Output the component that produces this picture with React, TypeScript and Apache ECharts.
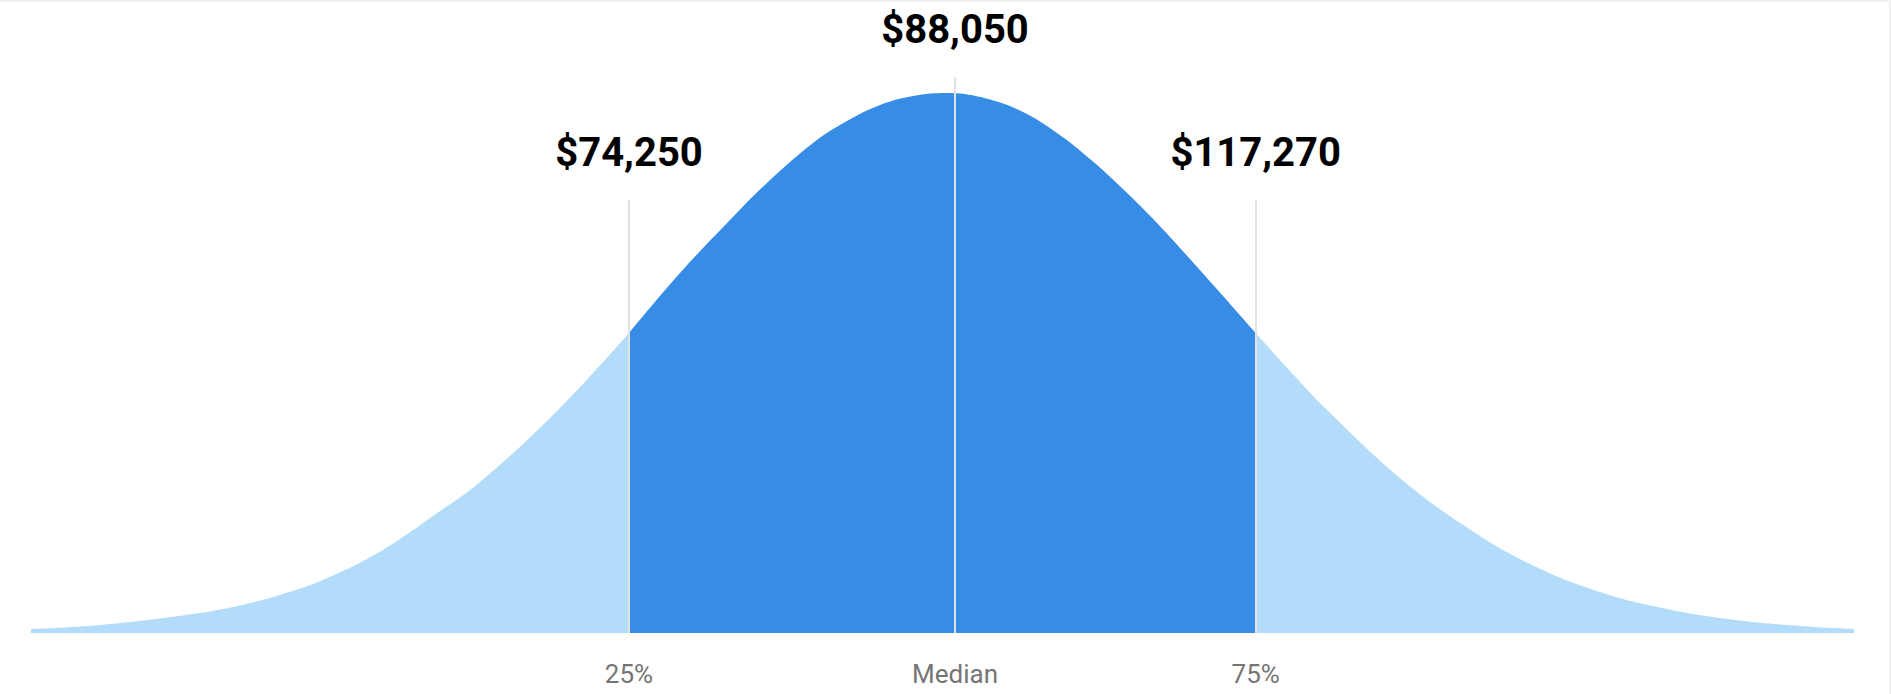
import React, { useEffect, useRef } from "react";
import * as echarts from "echarts";

// Curve: horizontal position (px from the curve's left end) and height above the baseline
const curveX = [0, 69, 169, 219, 269, 302, 336, 369, 402, 449, 529, 598, 649, 699, 732, 782, 816, 849, 882, 916, 924, 959, 992, 1026, 1059, 1092, 1126, 1159, 1192, 1224.7, 1259, 1294, 1369, 1436, 1502, 1569, 1636, 1702, 1769, 1823];
const curveY = [4, 8, 20, 30, 44.5, 57.5, 74, 94, 117, 151, 225, 300, 360, 413, 446.3, 490, 512, 528, 537, 540, 539.8, 533.5, 521, 500, 474, 444, 410, 374, 337, 300, 262, 225, 155, 105.5, 67.5, 41, 24, 13.3, 7, 4];

// Markers
const markerNames = ["25%", "Median", "75%"];
const markerSalary = [74250, 88050, 117270];
const markerPos = [598, 924, 1224.7];
const markerTop = [433, 556, 433];

const DARK = "#378CE5";
const LIGHT = "#B3DCFB";

function segment(lo: number, hi: number) {
  const out: number[][] = [];
  for (let i = 0; i < curveX.length; i++) {
    if (curveX[i] >= lo && curveX[i] <= hi) out.push([curveX[i], curveY[i]]);
  }
  return out;
}

export default function App() {
  const ref = useRef<HTMLDivElement>(null);
  useEffect(() => {
    document.body.style.margin = "0";
    document.body.style.overflow = "hidden";
    if (!ref.current) return;
    const chart = echarts.init(ref.current, null, { renderer: "svg" });
    const fmt = (v: number) => "$" + v.toLocaleString("en-US");
    const areaSeries = (data: number[][], color: string, extra: any = {}) => ({
      type: "line",
      data,
      smooth: 0.4,
      symbol: "none",
      showSymbol: false,
      silent: true,
      lineStyle: { width: 0, color },
      itemStyle: { color },
      areaStyle: { color, opacity: 1 },
      ...extra,
    });
    chart.setOption({
      animation: false,
      backgroundColor: "#ffffff",
      grid: { left: 31, right: 37, top: 33, bottom: 61, containLabel: false, outerBoundsMode: "none" },
      xAxis: {
        type: "value",
        min: 0,
        max: curveX[curveX.length - 1],
        axisLine: { show: false },
        axisTick: { show: false },
        splitLine: { show: false },
        axisLabel: {
          customValues: markerPos,
          margin: 28,
          fontSize: 26,
          color: "#757575",
          fontFamily: "Roboto",
          formatter: (v: number) => {
            const i = markerPos.findIndex((p) => Math.abs(p - v) < 0.01);
            return i >= 0 ? markerNames[i] : "";
          },
        },
      },
      yAxis: { type: "value", min: 0, max: 600, show: false, splitLine: { show: false } },
      series: [
        areaSeries(segment(-1, markerPos[0]), LIGHT),
        areaSeries(segment(markerPos[0], markerPos[2]), DARK, {
          markLine: {
            silent: true,
            symbol: ["none", "none"],
            z: 10,
            lineStyle: { color: "#e2e2e2", width: 2, type: "solid" },
            label: {
              show: true,
              position: "end",
              distance: 28,
              formatter: "{b}",
              fontSize: 40,
              fontWeight: "bold",
              color: "#000000",
              fontFamily: "Roboto",
            },
            emphasis: { disabled: true },
            data: markerPos.map((p, i) => [
              { name: fmt(markerSalary[i]), coord: [p, 0] },
              { name: fmt(markerSalary[i]), coord: [p, markerTop[i]] },
            ]),
          },
        }),
        areaSeries(segment(markerPos[2], 99999), LIGHT),
      ],
      graphic: [
        { type: "line", shape: { x1: 0, y1: 1, x2: 1891, y2: 1 }, style: { stroke: "#f2f2f2", lineWidth: 2 }, silent: true },
        { type: "line", shape: { x1: 1890, y1: 0, x2: 1890, y2: 694 }, style: { stroke: "#f2f2f2", lineWidth: 2 }, silent: true },
      ],
    });
    return () => chart.dispose();
  }, []);
  return <div ref={ref} style={{ width: 1891, height: 694 }} />;
}
